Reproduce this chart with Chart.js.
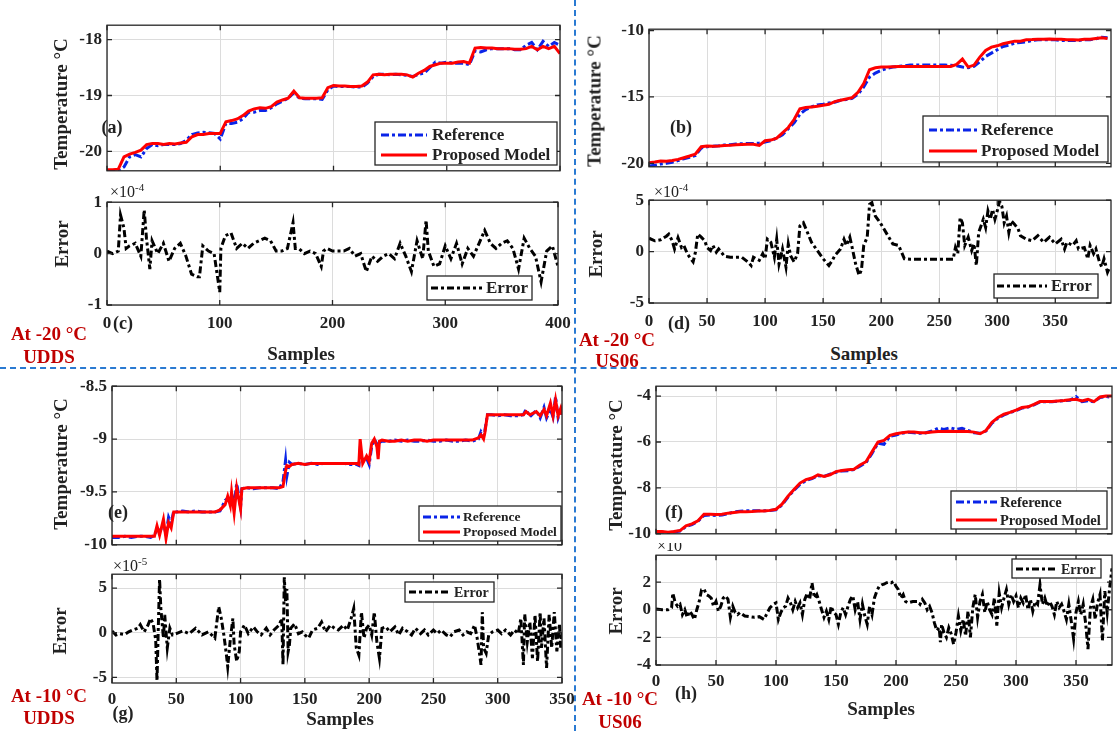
<!DOCTYPE html>
<html><head><meta charset="utf-8">
<script src="https://cdn.jsdelivr.net/npm/chart.js@4.4.0/dist/chart.umd.min.js"></script>
<style>
html,body{margin:0;padding:0;background:#fff;overflow:hidden;}
#wrap{position:relative;width:1117px;height:731px;overflow:hidden;background:#fff;}
canvas{position:absolute;}
.t{position:absolute;font-family:"Liberation Serif","Times New Roman",serif;font-weight:bold;color:#222;white-space:nowrap;transform:translate(-50%,-50%);line-height:1;z-index:5;}
.rot{transform:translate(-50%,-50%) rotate(-90deg);font-size:19px;}
.red{color:#c00000;font-size:19px;}
.tl{position:absolute;font-family:"Liberation Serif","Times New Roman",serif;color:#222;white-space:nowrap;transform:translateY(-50%);line-height:1;font-size:16px;z-index:5;}
.tl sup{font-size:11px;vertical-align:6px;}
.vd{position:absolute;left:574px;top:0;height:731px;border-left:2px dashed #2a7ad2;z-index:6;}
.hd{position:absolute;left:0;top:367px;width:1117px;border-top:2px dashed #2a7ad2;z-index:6;}
</style></head><body>
<div id="wrap">
<div class="vd"></div><div class="hd"></div>
<div class="t rot" style="left:60px;top:104px">Temperature °C</div>
<div class="t rot" style="left:594px;top:101px">Temperature °C</div>
<div class="t rot" style="left:60px;top:464px">Temperature °C</div>
<div class="t rot" style="left:615px;top:465px">Temperature °C</div>
<div class="t rot" style="left:61px;top:244px">Error</div>
<div class="t rot" style="left:595px;top:254px">Error</div>
<div class="t rot" style="left:59px;top:631px">Error</div>
<div class="t rot" style="left:615px;top:611px">Error</div>
<div class="tl" style="left:110px;top:191px">×10<sup>-4</sup></div>
<div class="tl" style="left:654px;top:191px">×10<sup>-4</sup></div>
<div class="tl" style="left:113px;top:565px">×10<sup>-5</sup></div>
<div style="position:absolute;left:655px;top:543px;width:40px;height:11px;overflow:hidden;z-index:5"><div class="tl" style="left:2px;top:3px">×10</div></div>
<div class="t" style="left:112px;top:127px;font-size:18px">(a)</div>
<div class="t" style="left:681px;top:127px;font-size:18px">(b)</div>
<div class="t" style="left:118px;top:512px;font-size:18px">(e)</div>
<div class="t" style="left:674px;top:512px;font-size:18px">(f)</div>
<div class="t" style="left:123px;top:323px;font-size:18px">(c)</div>
<div class="t" style="left:679px;top:323px;font-size:18px">(d)</div>
<div class="t" style="left:123px;top:713px;font-size:18px">(g)</div>
<div class="t" style="left:686px;top:693px;font-size:18px">(h)</div>
<div class="t" style="left:301px;top:353px;font-size:19px">Samples</div>
<div class="t" style="left:864px;top:353px;font-size:19px">Samples</div>
<div class="t" style="left:340px;top:718px;font-size:19px">Samples</div>
<div class="t" style="left:881px;top:708px;font-size:19px">Samples</div>
<div class="t red" style="left:49px;top:333px">At -20 °C</div>
<div class="t red" style="left:49px;top:356px">UDDS</div>
<div class="t red" style="left:617px;top:339px">At -20 °C</div>
<div class="t red" style="left:617px;top:360px">US06</div>
<div class="t red" style="left:49px;top:695px">At -10 °C</div>
<div class="t red" style="left:49px;top:717px">UDDS</div>
<div class="t red" style="left:620px;top:698px">At -10 °C</div>
<div class="t red" style="left:620px;top:721px">US06</div>
</div>
<script>
// ---------- DATA ----------
// Panel (a): -20 °C UDDS temperature
const samplesA = [0,5,10,15,20,25,30,35,40,45,50,55,60,65,70,75,80,85,90,95,100,105,110,115,120,125,130,135,140,145,150,155,160,165,170,175,180,185,190,195,200,205,210,215,220,225,230,235,240,245,250,255,260,265,270,275,280,285,290,295,300,305,310,315,320,325,330,335,340,345,350,355,360,365,370,375,380,385,390,395,400];
const refA = [-20.35,-20.35,-20.35,-20.28,-20.1,-20.06,-20.1,-19.95,-19.88,-19.9,
-19.88,-19.88,-19.88,-19.86,-19.8,-19.7,-19.67,-19.66,-19.67,-19.68,
-19.78,-19.5,-19.5,-19.48,-19.42,-19.3,-19.3,-19.27,-19.27,-19.22,
-19.15,-19.1,-19.05,-18.95,-19.05,-19.06,-19.06,-19.06,-19.07,-18.9,
-18.83,-18.84,-18.84,-18.84,-18.85,-18.85,-18.78,-18.66,-18.62,-18.62,
-18.63,-18.62,-18.63,-18.64,-18.66,-18.62,-18.6,-18.5,-18.4,-18.42,
-18.4,-18.42,-18.42,-18.42,-18.45,-18.2,-18.22,-18.18,-18.16,-18.16,
-18.16,-18.16,-18.18,-18.18,-18.1,-18.05,-18.18,-18.03,-18.12,-18.05,-18.1];
const modelA = [-20.33,-20.33,-20.32,-20.1,-20.05,-20.02,-19.98,-19.88,-19.86,-19.86,
-19.88,-19.86,-19.87,-19.85,-19.84,-19.74,-19.7,-19.7,-19.68,-19.68,
-19.68,-19.47,-19.45,-19.42,-19.36,-19.28,-19.24,-19.22,-19.23,-19.2,
-19.12,-19.08,-19.05,-18.92,-19.04,-19.05,-19.05,-19.05,-19.04,-18.86,
-18.82,-18.83,-18.83,-18.84,-18.84,-18.83,-18.76,-18.63,-18.62,-18.63,
-18.62,-18.62,-18.62,-18.63,-18.67,-18.6,-18.55,-18.48,-18.45,-18.42,
-18.42,-18.42,-18.4,-18.39,-18.42,-18.15,-18.14,-18.15,-18.15,-18.16,
-18.16,-18.16,-18.17,-18.17,-18.16,-18.12,-18.18,-18.12,-18.16,-18.12,-18.25];
// Panel (c): error (x1e-4)
const errSamplesC = [0,5,10,12,15,17,20,25,30,33,35,38,40,45,50,55,60,65,70,75,80,82,85,90,95,100,101,105,110,115,120,125,130,135,140,145,150,155,160,165,167,170,175,180,185,190,192,195,200,205,210,215,220,225,230,235,240,245,250,255,260,265,270,275,280,283,285,290,295,300,305,310,315,320,325,330,335,340,345,350,355,360,365,370,375,380,385,390,395,400];
const errC = [0.05,0,0.05,0.75,0.5,0.1,0.15,0.2,-0.05,0.85,
0.3,-0.3,0.25,0,0.2,-0.15,0.1,0.2,-0.05,-0.4,
-0.45,-0.45,0.15,0.05,0,-0.75,0.1,0.35,0.4,0.1,
0.2,0.1,0.2,0.25,0.3,0.25,0.05,0.05,0.1,0.6,
0.1,0.1,0,0.05,0,-0.25,0.05,0.1,0.05,0.05,
0.05,0.1,-0.05,0,-0.35,-0.05,-0.15,-0.05,0,-0.1,
0.2,-0.05,-0.35,0.25,-0.1,0.65,0.05,-0.25,-0.2,0.15,
-0.1,0.2,-0.2,0.1,-0.05,0.2,0.45,0.2,0.1,0.2,
0.25,0.1,-0.3,0.3,0.1,-0.05,-0.55,0.05,0.15,-0.25];

// Panel (b): -20 °C US06 temperature
const samplesB = [0,5,10,15,20,25,30,35,40,45,50,55,60,65,70,75,80,85,90,95,100,105,110,115,120,125,130,135,140,145,150,155,160,165,170,175,180,185,190,195,200,205,210,215,220,225,230,235,240,245,250,255,260,265,270,275,280,285,290,295,300,305,310,315,320,325,330,335,340,345,350,355,360,365,370,375,380,385,390,395];
const refB = [-20.2,-20.15,-20.05,-20.0,-19.92,-19.8,-19.65,-19.55,-19.4,-18.85,
-18.75,-18.72,-18.68,-18.62,-18.6,-18.55,-18.52,-18.5,-18.5,-18.48,
-18.4,-18.3,-18.1,-17.85,-17.4,-16.95,-16.3,-15.95,-15.75,-15.6,
-15.55,-15.45,-15.4,-15.25,-15.2,-15.1,-14.8,-14.25,-13.5,-13.2,
-13.0,-12.85,-12.75,-12.7,-12.65,-12.6,-12.6,-12.6,-12.6,-12.6,
-12.6,-12.6,-12.62,-12.65,-12.75,-12.8,-12.7,-12.35,-11.95,-11.7,
-11.45,-11.2,-11.1,-10.95,-10.9,-10.85,-10.75,-10.7,-10.7,-10.7,
-10.7,-10.75,-10.75,-10.75,-10.75,-10.7,-10.7,-10.62,-10.5,-10.55];
const modelB = [-19.95,-19.9,-19.82,-19.85,-19.78,-19.7,-19.58,-19.45,-19.3,-18.75,
-18.7,-18.72,-18.7,-18.65,-18.63,-18.6,-18.58,-18.56,-18.56,-18.65,
-18.3,-18.25,-18.1,-17.7,-17.3,-16.7,-15.9,-15.8,-15.75,-15.7,
-15.62,-15.55,-15.35,-15.25,-15.15,-15.05,-14.65,-14.0,-12.95,-12.8,
-12.75,-12.75,-12.72,-12.7,-12.7,-12.7,-12.7,-12.7,-12.7,-12.7,
-12.7,-12.7,-12.7,-12.55,-12.15,-12.75,-12.6,-12.0,-11.5,-11.25,
-11.15,-11.0,-10.9,-10.8,-10.8,-10.7,-10.68,-10.65,-10.65,-10.63,
-10.65,-10.65,-10.7,-10.7,-10.72,-10.65,-10.65,-10.6,-10.55,-10.6];
// Panel (d): error (x1e-4)
const errSamplesD = [0,5,10,15,17,20,22,25,28,30,33,35,38,40,42,45,48,50,53,55,58,60,65,70,75,80,85,88,90,95,98,100,102,105,108,110,112,115,118,120,122,125,128,130,133,136,140,145,150,155,158,160,165,168,170,173,175,178,181,183,185,188,190,192,195,198,200,205,210,215,220,225,240,255,262,264,266,268,270,272,275,278,280,282,284,286,288,290,292,294,296,298,300,302,304,306,308,310,312,315,318,320,325,330,335,340,345,350,355,358,360,365,368,370,375,378,380,383,385,388,390,392,395,397];
const errD = [1.3,1.05,1.15,1.5,1.7,1.05,0.25,1.35,0.4,0.6,
-0.2,-0.55,-1.0,-0.05,1.7,1.4,1.05,0.4,0.1,0.6,
-0.05,0.25,-0.45,-0.55,-0.55,-0.55,-1.0,-1.35,-0.55,-0.85,
-0.2,-0.7,1.2,0.9,-0.55,1.2,-1.2,0.25,-1.5,0.75,
-0.4,-1.0,-0.2,2.5,2.8,2.0,0.9,0.1,-0.7,-1.35,
-0.85,-0.4,0.25,1.2,0.6,1.4,0.4,-1.2,-2.3,-1.8,
0.6,1.4,4.6,4.75,3.45,3.0,2.65,1.7,0.75,0.6,
-0.7,-0.75,-0.75,-0.75,-0.75,0.4,-0.2,3.3,2.8,0.6,
1.4,0.1,0.75,-1.35,1.85,2.5,3.15,2.35,3.95,3.15,
4.1,3.15,3.95,4.9,4.4,2.8,3.45,1.85,3.0,2.65,
2.2,1.55,1.2,1.05,1.55,0.9,1.4,0.75,1.2,0.25,
0.9,0.6,1.05,0.25,0.4,-0.7,0.6,-0.2,0.25,-1.0,
-1.5,-0.7,-2.0,-1.5];

// Panel (e): -10 °C UDDS temperature
const samplesE = [0,5,10,15,20,25,30,33,35,37,40,42,44,46,48,50,55,60,65,70,75,80,84,88,90,92,93,95,97,100,101,105,110,115,120,125,130,133,135,136,138,140,145,150,155,160,165,170,175,180,185,190,192,193,195,198,200,202,204,206,207,208,210,215,220,225,230,235,240,245,250,255,260,265,270,275,280,285,287,289,290,292,295,300,305,310,315,320,322,325,330,333,336,338,341,343,345,347,349,350];
const refE = [-9.93,-9.93,-9.92,-9.93,-9.92,-9.92,-9.93,-9.91,-9.85,-9.88,
-9.8,-9.9,-9.74,-9.8,-9.68,-9.69,-9.68,-9.69,-9.68,-9.69,
-9.69,-9.69,-9.68,-9.58,-9.56,-9.6,-9.52,-9.62,-9.42,-9.64,
-9.47,-9.46,-9.47,-9.46,-9.46,-9.46,-9.47,-9.4,-9.2,-9.35,
-9.22,-9.24,-9.23,-9.24,-9.23,-9.24,-9.23,-9.23,-9.23,-9.23,
-9.24,-9.24,-9.25,-9.1,-9.2,-9.18,-9.24,-9.07,-9.0,-9.05,
-9.1,-9.03,-9.02,-9.02,-9.01,-9.02,-9.01,-9.02,-9.02,-9.01,
-9.02,-9.02,-9.01,-9.02,-9.02,-9.01,-9.02,-9.0,-8.93,-8.97,
-8.92,-8.77,-8.77,-8.78,-8.77,-8.78,-8.78,-8.77,-8.72,-8.79,
-8.73,-8.8,-8.7,-8.8,-8.72,-8.79,-8.6,-8.8,-8.73,-8.79];
const modelE = [-9.92,-9.92,-9.92,-9.92,-9.92,-9.92,-9.92,-9.92,-9.82,-9.91,
-9.76,-9.94,-9.79,-9.84,-9.69,-9.69,-9.69,-9.69,-9.69,-9.69,
-9.69,-9.69,-9.67,-9.62,-9.54,-9.63,-9.5,-9.7,-9.46,-9.66,
-9.47,-9.46,-9.46,-9.46,-9.46,-9.46,-9.46,-9.45,-9.3,-9.25,
-9.26,-9.24,-9.23,-9.24,-9.23,-9.23,-9.23,-9.23,-9.23,-9.23,
-9.23,-9.23,-9.24,-9.0,-9.23,-9.16,-9.21,-9.04,-9.0,-9.07,
-9.19,-9.02,-9.01,-9.02,-9.02,-9.01,-9.02,-9.01,-9.01,-9.02,
-9.01,-9.01,-9.01,-9.01,-9.01,-9.01,-9.01,-8.99,-8.96,-9.0,
-8.94,-8.77,-8.77,-8.77,-8.77,-8.77,-8.77,-8.77,-8.74,-8.77,
-8.74,-8.78,-8.72,-8.78,-8.66,-8.78,-8.63,-8.78,-8.71,-8.77];
// Panel (g): error (x1e-5)
const errSamplesG = [0,3,6,10,13,16,20,22,25,28,30,32,34,35,36,37,38,40,41,43,45,47,50,55,60,65,70,75,80,83,85,87,89,90,92,94,95,97,99,100,103,106,110,113,116,120,123,126,130,132,133,134,135,136,137,138,139,142,145,148,150,153,156,160,163,166,170,173,176,180,183,186,188,190,192,194,196,198,200,202,204,206,208,210,213,216,220,223,226,230,233,236,240,243,246,250,253,256,260,263,266,270,273,276,279,282,284,286,287,288,289,291,293,296,300,303,306,310,313,316,318,320,321,323,325,327,329,331,333,334,336,338,340,342,344,346,348,349,350];
const errG = [0.2,-0.25,-0.1,-0.2,0.1,0.3,0.5,0.9,0.1,0.85,
1.6,1.0,-0.8,-5.4,0.5,6.0,2.7,-0.6,2.0,-1.7,
0.5,-0.25,-0.1,0.2,-0.1,0.5,-0.25,0.1,-0.6,2.9,
1.6,-0.25,-2.5,-3.8,-0.8,1.6,-1.35,-3.2,-2.1,0.1,
0.85,-0.1,0.65,0.1,-0.25,0.5,-0.25,0.3,0.85,1.6,
-3.6,6.2,3.4,4.9,-2.1,-1.35,0.5,1.0,-0.1,0.1,
-0.25,-0.6,0.3,0.5,1.2,0.1,0.85,0.5,0.3,0.85,
0.3,1.6,2.7,-1.7,-2.5,2.3,-0.6,0.5,0.85,-0.25,
2.3,-1.0,-2.85,0.5,0.65,0.1,0.65,-0.25,0.5,0.1,
-0.25,0.5,-0.1,0.3,-0.25,0.3,-0.1,0.3,-0.25,-0.45,
0.1,0.3,-0.25,0.1,-0.1,0.85,-0.6,-2.5,-3.6,2.3,
-1.7,-2.3,-0.25,0.1,0.3,-0.1,0.3,-0.25,0.3,-0.1,
1.6,-3.6,2.1,-1.0,1.2,-2.85,2.0,-3.2,2.3,-1.7,
1.6,-3.95,2.0,-1.7,2.3,-2.1,1.0,-1.7,0.1];

// Panel (f): -10 °C US06 temperature
const samplesF = [0,5,10,15,20,25,30,35,40,45,50,55,60,65,70,75,80,85,90,95,100,105,110,115,120,125,130,135,140,145,150,155,160,165,170,175,180,185,190,195,200,205,210,215,220,225,230,235,240,245,250,255,260,265,270,275,280,285,290,295,300,305,310,315,320,325,330,335,340,345,350,355,360,365,370,375,380];
const refF = [-9.95,-9.93,-9.95,-9.92,-9.88,-9.68,-9.6,-9.45,-9.2,-9.18,
-9.2,-9.18,-9.12,-9.05,-9.02,-9.0,-9.0,-9.0,-9.0,-8.98,
-8.95,-8.75,-8.4,-8.1,-7.85,-7.68,-7.6,-7.47,-7.5,-7.4,
-7.32,-7.26,-7.25,-7.2,-7.05,-6.9,-6.5,-6.05,-6.1,-5.75,
-5.7,-5.62,-5.58,-5.6,-5.62,-5.6,-5.52,-5.4,-5.45,-5.38,
-5.45,-5.4,-5.5,-5.6,-5.62,-5.52,-5.18,-4.96,-4.82,-4.72,
-4.63,-4.52,-4.48,-4.38,-4.25,-4.25,-4.25,-4.22,-4.2,-4.18,
-4.02,-4.24,-4.2,-4.25,-4.06,-4.02,-4.05];
const modelF = [-9.9,-9.9,-9.93,-9.9,-9.86,-9.65,-9.57,-9.43,-9.15,-9.15,
-9.16,-9.15,-9.1,-9.07,-9.04,-9.04,-9.03,-9.01,-9.01,-8.98,
-8.93,-8.71,-8.36,-8.07,-7.79,-7.64,-7.57,-7.43,-7.5,-7.43,
-7.29,-7.24,-7.21,-7.19,-7.0,-6.86,-6.43,-6.0,-5.93,-5.71,
-5.64,-5.6,-5.57,-5.57,-5.6,-5.6,-5.57,-5.54,-5.54,-5.53,
-5.54,-5.53,-5.54,-5.57,-5.64,-5.5,-5.14,-4.93,-4.79,-4.71,
-4.61,-4.5,-4.47,-4.36,-4.24,-4.24,-4.24,-4.21,-4.19,-4.16,
-4.14,-4.21,-4.14,-4.24,-4.04,-4.0,-4.0];
// Panel (h): error
const errSamplesH = [0,5,10,13,14,16,18,20,22,24,
26,28,30,32,34,36,38,40,42,44,
46,48,50,52,54,56,58,60,62,64,
66,68,70,74,78,82,86,90,92,95,
98,100,102,104,106,108,110,112,114,116,
118,120,122,124,126,128,130,132,134,136,
138,140,142,144,146,148,150,152,154,156,
158,160,162,164,166,168,170,172,174,176,
178,180,182,184,186,188,190,192,194,196,
198,200,202,204,206,208,210,214,218,220,
222,224,226,228,230,232,234,236,237,238,
240,242,244,246,248,250,252,254,256,258,
260,262,264,266,268,270,272,274,276,278,
280,282,284,286,288,290,292,294,296,298,
300,302,304,306,308,310,312,314,316,318,
320,322,324,326,328,330,332,334,336,338,
340,342,344,346,348,350,352,354,356,358,
360,362,364,366,368,370,372,374,376,378,
380];
const errH = [0.05,0,0,0.15,1.2,0.5,0.25,0.4,-0.35,0,
-0.55,-0.1,-0.35,-0.7,0,0.6,1.45,1.5,1.1,1.0,
0.85,0.25,0.6,-0.1,0.25,0.85,1.0,0.75,-0.55,0.25,
-0.2,-0.35,-0.2,-0.45,-0.5,-0.55,-0.5,-0.7,-0.35,0.15,
0.4,0.5,-0.7,-0.2,0.15,0.25,0.85,0.5,0,0.6,
0.15,0.5,-0.35,0.75,1.2,0.75,1.95,0.85,1.1,0.6,
0,-0.55,-0.1,-0.7,0.25,-0.2,-0.35,-1.05,-0.2,0.15,
-0.35,0.25,0.75,1.0,0,0.6,-0.7,0.4,-0.45,-1.05,
0.25,-0.35,0.85,1.35,1.7,1.8,1.85,1.95,2.0,1.95,
2.05,1.7,1.45,0.85,1.1,0.6,0.5,0.6,0.6,0.4,
0.75,0.5,0,0.25,-0.2,-0.95,-1.5,-1.3,-2.35,-1.05,
-1.65,-2.0,-1.3,-1.75,-2.5,-1.65,-0.45,-1.5,-0.7,-1.9,
-0.1,-2.0,0.15,1.1,-0.55,0.6,1.1,-0.2,0.6,0,
-0.35,0.85,-1.15,1.2,0.15,0.85,1.45,0.4,1.1,0.6,
1.0,0.15,0.85,0.5,1.1,0,0.75,-0.1,0.6,0.4,
1.8,0.4,0.85,0.25,0.6,0.25,-0.35,0.6,0.15,0.4,
-0.1,-0.7,0.4,-0.8,-2.1,-0.2,0.6,-0.35,0.4,-0.95,
-2.85,0.15,0.75,-0.7,0.5,1.1,-2.25,1.35,-0.2,1.55,
3.0];

// Tick values
const xTicks400 = [0,100,200,300,400];
const xTicks50 = [0,50,100,150,200,250,300,350];
const yTicksA = [-20,-19,-18];
const yTicksC = [-1,0,1];
const yTicksB = [-20,-15,-10];
const yTicksD = [-5,0,5];
const yTicksE = [-10,-9.5,-9,-8.5];
const yTicksG = [-5,0,5];
const yTicksF = [-10,-8,-6,-4];
const yTicksH = [-4,-2,0,2];

// ---------- RENDER ----------
const wrap = document.getElementById('wrap');
const FONT = '"Liberation Serif","Times New Roman",serif';
const PL = 60, PR = 22, PT = 14;
const pts = (xs, ys) => xs.map((x, i) => ({x: x, y: ys[i]}));
const refStyle = {borderColor:'#0a24e8', borderWidth:3, borderDash:[8,3,3,3]};
const modStyle = {borderColor:'#ff0000', borderWidth:3, borderDash:[]};
const errStyle = {borderColor:'#000000', borderWidth:3, borderDash:[7,3,3,3]};

const framePlugin = {
  id:'frame',
  afterDatasetsDraw(chart){
    const {ctx, chartArea:a, scales} = chart;
    ctx.save();
    ctx.strokeStyle = '#262626'; ctx.lineWidth = 1.3; ctx.setLineDash([]);
    ctx.strokeRect(a.left, a.top, a.right - a.left, a.bottom - a.top);
    const L = 5;
    ctx.beginPath();
    scales.x.ticks.forEach(t => { const p = scales.x.getPixelForValue(t.value);
      ctx.moveTo(p, a.bottom); ctx.lineTo(p, a.bottom - L); ctx.moveTo(p, a.top); ctx.lineTo(p, a.top + L); });
    scales.y.ticks.forEach(t => { const p = scales.y.getPixelForValue(t.value);
      ctx.moveTo(a.left, p); ctx.lineTo(a.left + L, p); ctx.moveTo(a.right, p); ctx.lineTo(a.right - L, p); });
    ctx.stroke();
    ctx.restore();
  }
};

function legendPlugin(lg, ox, oy){
  return {
    id:'boxLegend',
    afterDraw(chart){
      const ctx = chart.ctx;
      const [x0, y0, x1, y1] = lg.rect;
      ctx.save();
      ctx.fillStyle = '#fff';
      ctx.fillRect(x0 - ox, y0 - oy, x1 - x0, y1 - y0);
      ctx.strokeStyle = '#262626'; ctx.lineWidth = 1.3; ctx.setLineDash([]);
      ctx.strokeRect(x0 - ox, y0 - oy, x1 - x0, y1 - y0);
      ctx.font = 'bold ' + lg.size + 'px ' + FONT;
      ctx.textBaseline = 'middle';
      lg.rows.forEach((ry, i) => {
        const ds = chart.data.datasets[lg.items[i]];
        ctx.strokeStyle = ds.borderColor; ctx.lineWidth = ds.borderWidth; ctx.setLineDash(ds.borderDash || []);
        ctx.beginPath(); ctx.moveTo(lg.s0 - ox, ry - oy); ctx.lineTo(lg.s1 - ox, ry - oy); ctx.stroke();
        ctx.setLineDash([]);
        ctx.fillStyle = '#222';
        ctx.fillText(ds.label, lg.tx - ox, ry - oy + 1);
      });
      ctx.restore();
    }
  };
}

function panel(c){
  const pb = c.xLabels ? 38 : 14;
  const w = c.box[1] - c.box[0], h = c.box[3] - c.box[2];
  const cv = document.createElement('canvas');
  const ox = c.box[0] - PL, oy = c.box[2] - PT;
  cv.width = w + PL + PR; cv.height = h + PT + pb;
  cv.style.left = ox + 'px'; cv.style.top = oy + 'px';
  cv.style.width = cv.width + 'px'; cv.style.height = cv.height + 'px';
  wrap.appendChild(cv);
  new Chart(cv, {
    type:'line',
    data:{datasets:c.datasets},
    options:{
      responsive:false, animation:false, devicePixelRatio:1,
      layout:{padding:{left:0, right:PR, top:PT, bottom:0}},
      elements:{point:{radius:0}, line:{tension:0}},
      plugins:{legend:{display:false}, tooltip:{enabled:false}},
      scales:{
        x:{type:'linear', min:c.xr[0], max:c.xr[1],
           afterBuildTicks:s => { s.ticks = c.xt.map(v => ({value:v})); },
           afterFit:s => { s.height = pb; },
           grid:{color:'#dcdcdc', lineWidth:1, drawTicks:false}, border:{display:false},
           ticks:{display:!!c.xLabels, padding:c.xpad || 8, color:'#222', maxRotation:0, autoSkip:false,
                  font:{family:FONT, size:17, weight:'bold'}, callback:v => String(v)}},
        y:{type:'linear', min:c.yr[0], max:c.yr[1],
           afterBuildTicks:s => { s.ticks = c.yt.map(v => ({value:v})); },
           afterFit:s => { s.width = PL; },
           grid:{color:'#dcdcdc', lineWidth:1, drawTicks:false}, border:{display:false},
           ticks:{padding:5, color:'#222', autoSkip:false,
                  font:{family:FONT, size:17, weight:'bold'}, callback:v => String(v)}}
      }
    },
    plugins:[framePlugin, legendPlugin(c.legend, ox, oy)]
  });
}

function tempSets(xs, ref, mod){
  return [
    Object.assign({label:'Reference', data:pts(xs, ref), order:2}, refStyle),
    Object.assign({label:'Proposed Model', data:pts(xs, mod), order:1}, modStyle)
  ];
}
function errSets(xs, e){
  return [Object.assign({label:'Error', data:pts(xs, e)}, errStyle)];
}

// (a)
panel({box:[107,560,24,172], xr:[0,400], yr:[-20.35,-17.74], xt:xTicks400, yt:yTicksA,
  datasets:tempSets(samplesA, refA, modelA),
  legend:{rect:[375,122,557,165], rows:[135,155], items:[0,1], s0:381, s1:427, tx:432, size:17}});
// (c)
panel({box:[107,558,201,305], xr:[0,400], yr:[-1,1], xt:xTicks400, yt:yTicksC, xLabels:true, xpad:8,
  datasets:errSets(errSamplesC, errC),
  legend:{rect:[427,276,532,300], rows:[288], items:[0], s0:431, s1:482, tx:486, size:17}});
// (b)
panel({box:[649,1111,28,168], xr:[0,398], yr:[-20.26,-9.9], xt:xTicks50, yt:yTicksB,
  datasets:tempSets(samplesB, refB, modelB),
  legend:{rect:[923,116,1108,162], rows:[130,151], items:[0,1], s0:929, s1:977, tx:981, size:17}});
// (d)
panel({box:[649,1111,199,303], xr:[0,398], yr:[-5,5], xt:xTicks50, yt:yTicksD, xLabels:true, xpad:8,
  datasets:errSets(errSamplesD, errD),
  legend:{rect:[994,274,1098,298], rows:[286], items:[0], s0:997, s1:1047, tx:1051, size:16.5}});
// (e)
panel({box:[112,562,385,546], xr:[0,350], yr:[-10,-8.5], xt:xTicks50, yt:yTicksE,
  datasets:tempSets(samplesE, refE, modelE),
  legend:{rect:[419,506,561,541], rows:[517,532], items:[0,1], s0:423, s1:460, tx:463, size:13.5}});
// (g)
panel({box:[112,562,573,683], xr:[0,350], yr:[-5.63,6.55], xt:xTicks50, yt:yTicksG, xLabels:true, xpad:6,
  datasets:errSets(errSamplesG, errG),
  legend:{rect:[405,582,494,602], rows:[592], items:[0], s0:409, s1:451, tx:454, size:14}});
// (f)
panel({box:[656,1112,385,535], xr:[0,380], yr:[-10,-3.57], xt:xTicks50, yt:yTicksF,
  datasets:tempSets(samplesF, refF, modelF),
  legend:{rect:[951,491,1107,529], rows:[502,520], items:[0,1], s0:956, s1:997, tx:1000, size:14.5}});
// (h)
panel({box:[656,1112,554,665], xr:[0,380], yr:[-4,3.95], xt:xTicks50, yt:yTicksH, xLabels:true, xpad:6,
  datasets:errSets(errSamplesH, errH),
  legend:{rect:[1012,559,1101,578], rows:[569], items:[0], s0:1016, s1:1058, tx:1061, size:14}});
</script>
</body></html>
